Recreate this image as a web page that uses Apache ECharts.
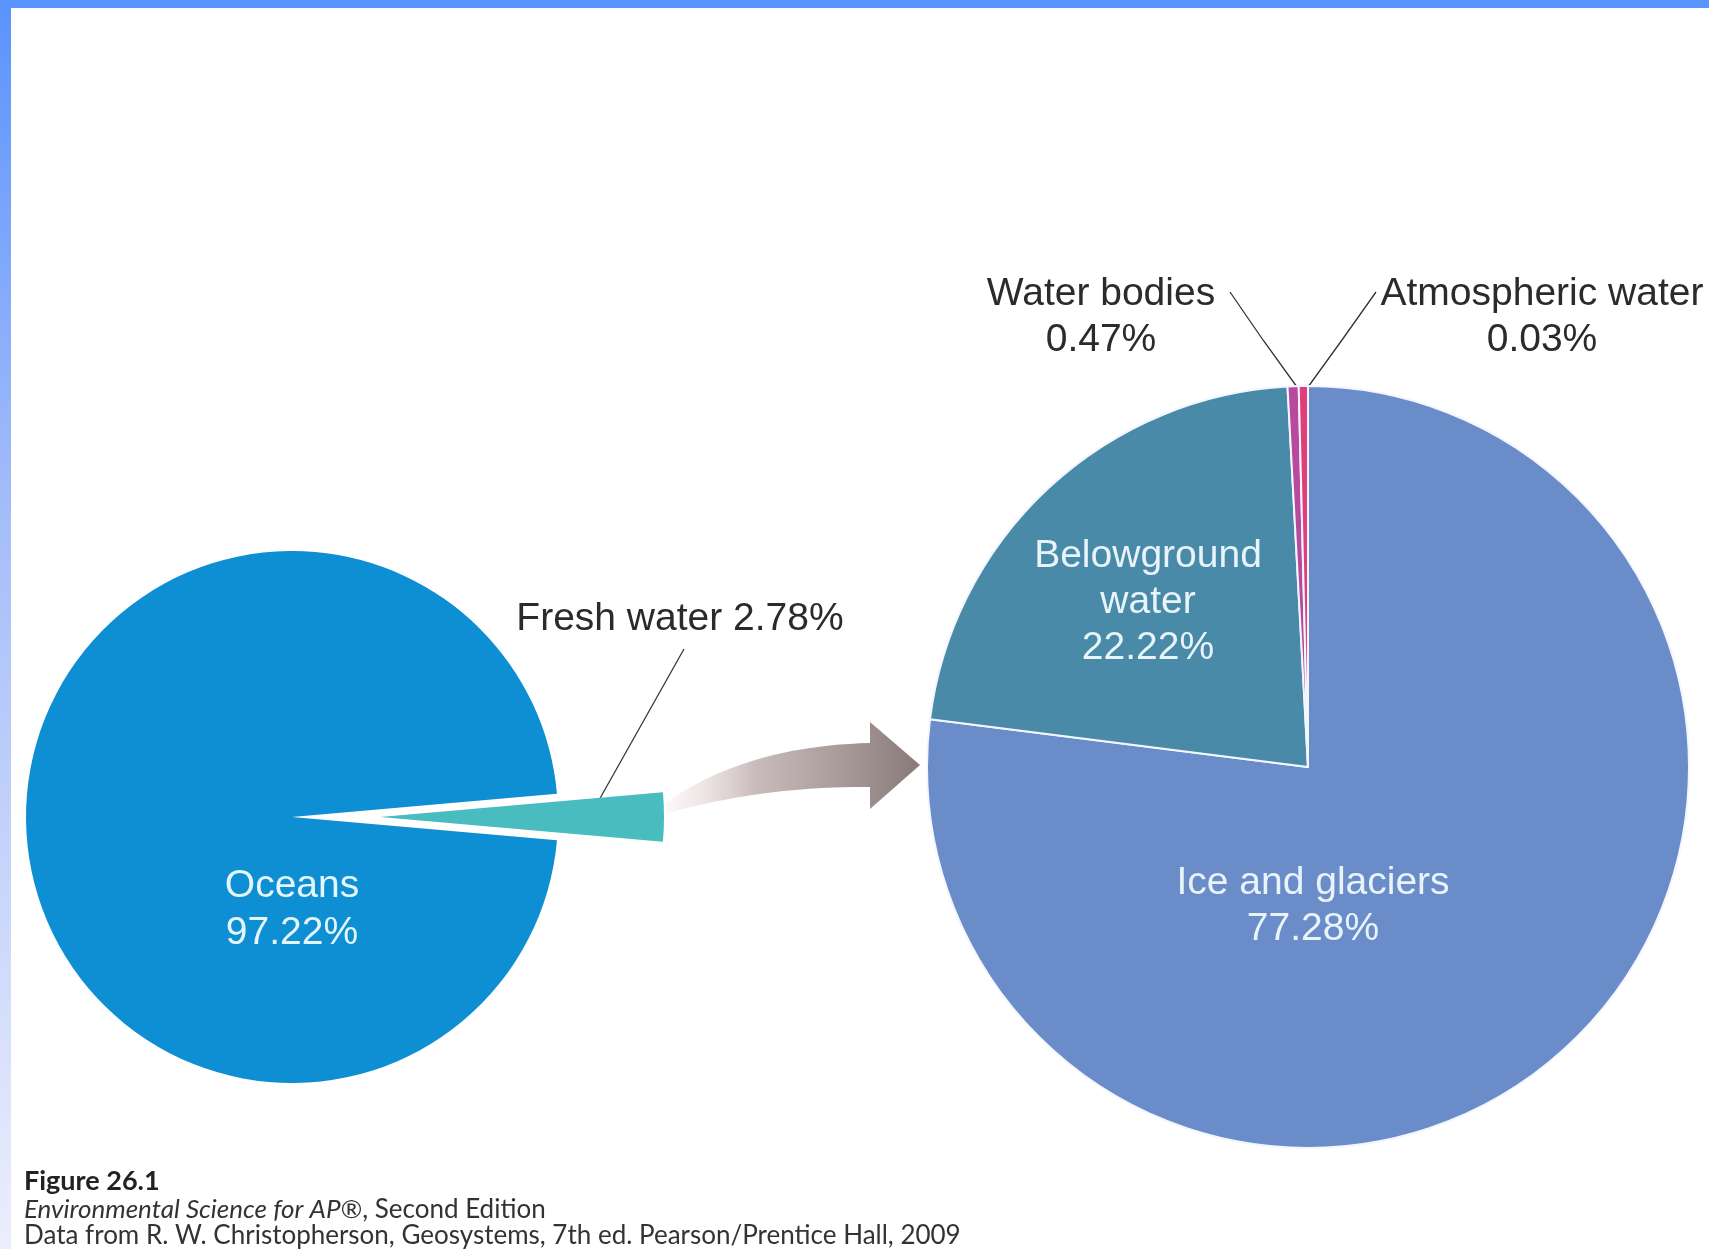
<!DOCTYPE html>
<html>
<head>
<meta charset="utf-8">
<title>Distribution of water on Earth</title>
<script src="https://cdn.jsdelivr.net/npm/echarts@6/dist/echarts.min.js"></script>
<style>
  html, body { margin: 0; padding: 0; background: #fff; }
  #chart { width: 1709px; height: 1249px; }
</style>
</head>
<body>
<div id="chart"></div>
<script>
// all water on Earth
const totalNames = ['Fresh water', 'Oceans'];
const totalValues = [2.78, 97.22];
const totalColors = ['#49bcc0', '#0f8fd3'];

// breakdown of fresh water
const freshNames = ['Ice and glaciers', 'Belowground water', 'Water bodies', 'Atmospheric water'];
const freshValues = [77.28, 22.22, 0.47, 0.03];
const freshColors = ['#6a8cc9', '#4a8aa9', '#b84a9e', '#e0407a'];

// label text per slice
const totalLabels = ['Fresh water 2.78%', 'Oceans\n97.22%'];
const freshLabels = ['Ice and glaciers\n77.28%', 'Belowground\nwater\n22.22%', 'Water bodies\n0.47%', 'Atmospheric water\n0.03%'];

// layout (pixels)
const leftCenter = [292, 817], leftR = 266;
const wedgeShift = 88, wedgeR = 284;   // the pulled-out fresh water slice
const rightCenter = [1308, 767], rightR = 381;

const leftLabelPos = [
  { x: 680, y: 619, line: [[594, 809], [639, 729], [684, 649]] },
  { x: 292, y: 910 }
];
const rightLabelPos = [
  { x: 1313, y: 906 },
  { x: 1148, y: 602 },
  { x: 1101, y: 317, line: [[1297, 387], [1263, 340], [1230, 292]] },
  { x: 1542, y: 317, line: [[1308, 387], [1342, 340], [1376, 292]] }
];

const FONT = '"Liberation Sans", Arial, sans-serif';
const FS = 39;

function layoutFrom(pos) {
  return function (params) {
    const p = pos[params.dataIndex];
    const out = { x: p.x, y: p.y, align: 'center', verticalAlign: 'middle' };
    if (p.line) out.labelLinePoints = p.line;
    return out;
  };
}

// sample a quadratic bezier into points (for the decorative arrow)
function quad(p0, c, p1, n) {
  const pts = [];
  for (let i = 0; i <= n; i++) {
    const t = i / n, u = 1 - t;
    pts.push([u * u * p0[0] + 2 * u * t * c[0] + t * t * p1[0],
              u * u * p0[1] + 2 * u * t * c[1] + t * t * p1[1]]);
  }
  return pts;
}
const arrowPts = []
  .concat(quad([664, 804], [745, 746], [870, 743], 24))
  .concat([[870, 722], [920, 765], [870, 809]])
  .concat(quad([870, 787], [765, 786], [668, 813], 24));

const hidden = { color: 'rgba(0,0,0,0)', borderWidth: 0 };

const myChart = echarts.init(document.getElementById('chart'));

const options = {
  backgroundColor: '#ffffff',
  animation: false,
  series: [
    {
      // oceans, with the gap where fresh water was taken out
      name: 'Earth water',
      type: 'pie',
      center: leftCenter,
      radius: leftR,
      startAngle: 5,
      clockwise: true,
      avoidLabelOverlap: false,
      emphasis: { disabled: true },
      label: { fontFamily: FONT, fontSize: FS, lineHeight: 47 },
      labelLayout: layoutFrom(leftLabelPos),
      data: totalNames.map((name, i) => ({
        name,
        value: totalValues[i],
        itemStyle: i === 0 ? hidden : { color: totalColors[i] },
        label: i === 0
          ? { show: false }
          : { show: true, position: 'inside', formatter: totalLabels[i], color: '#e4f6fc' },
        labelLine: { show: false }
      }))
    },
    {
      // the fresh water slice, pulled out to the right
      name: 'Fresh water share',
      type: 'pie',
      center: [leftCenter[0] + wedgeShift, leftCenter[1]],
      radius: wedgeR,
      startAngle: 5,
      clockwise: true,
      avoidLabelOverlap: false,
      silent: true,
      label: { fontFamily: FONT, fontSize: FS, lineHeight: 47 },
      labelLine: { lineStyle: { color: '#333', width: 1.3 } },
      labelLayout: layoutFrom(leftLabelPos),
      data: totalNames.map((name, i) => ({
        name,
        value: totalValues[i],
        itemStyle: i === 0 ? { color: totalColors[i] } : hidden,
        label: i === 0
          ? { show: true, position: 'outside', formatter: totalLabels[i], color: '#2b2b2b' }
          : { show: false },
        labelLine: { show: i === 0 }
      }))
    },
    {
      name: 'Fresh water',
      type: 'pie',
      center: rightCenter,
      radius: rightR,
      startAngle: 90,
      clockwise: true,
      minAngle: 1.4,
      avoidLabelOverlap: false,
      emphasis: { disabled: true },
      itemStyle: { borderColor: '#f4f6ff', borderWidth: 2 },
      label: { fontFamily: FONT, fontSize: FS, lineHeight: 46 },
      labelLine: { lineStyle: { color: '#333', width: 1.3 } },
      labelLayout: layoutFrom(rightLabelPos),
      data: freshNames.map((name, i) => ({
        name,
        value: freshValues[i],
        itemStyle: { color: freshColors[i] },
        label: i < 2
          ? { show: true, position: 'inside', formatter: freshLabels[i], color: '#e8f4fa' }
          : { show: true, position: 'outside', formatter: freshLabels[i], color: '#2b2b2b' },
        labelLine: { show: i >= 2 }
      }))
    }
  ],
  graphic: [
    // page frame bars
    { type: 'rect', shape: { x: 0, y: 0, width: 1709, height: 8 }, style: { fill: '#5a93fd' }, z: 10 },
    {
      type: 'rect', shape: { x: 0, y: 0, width: 11, height: 1249 }, z: 10,
      style: {
        fill: new echarts.graphic.LinearGradient(0, 0, 0, 1, [
          { offset: 0, color: '#5a93fd' },
          { offset: 0.4, color: '#a3bcf9' },
          { offset: 1, color: '#eceefc' }
        ])
      }
    },
    // curved arrow
    {
      type: 'polygon', z: 5,
      shape: { points: arrowPts },
      style: {
        fill: new echarts.graphic.LinearGradient(0, 0, 1, 0, [
          { offset: 0, color: 'rgba(252,240,240,0.5)' },
          { offset: 0.35, color: '#cbbdbd' },
          { offset: 1, color: '#877a78' }
        ])
      }
    },
    // caption
    {
      type: 'text', left: 24, top: 1168, z: 10,
      style: { text: 'Figure 26.1', font: 'bold 27px Lato, "Open Sans", sans-serif', fill: '#222' }
    },
    {
      type: 'text', left: 24, top: 1197, z: 10,
      style: {
        text: '{i|Environmental Science for AP®}{n|, Second Edition}',
        fill: '#333',
        rich: {
          i: { fontStyle: 'italic', fontSize: 26, fontFamily: 'Lato', color: '#333' },
          n: { fontSize: 26, fontFamily: 'Lato', color: '#333' }
        }
      }
    },
    {
      type: 'text', left: 24, top: 1223, z: 10,
      style: { text: 'Data from R. W. Christopherson, Geosystems, 7th ed. Pearson/Prentice Hall, 2009', font: '26px Lato, "Open Sans", sans-serif', fill: '#333' }
    }
  ]
};

myChart.setOption(options);
</script>
</body>
</html>
